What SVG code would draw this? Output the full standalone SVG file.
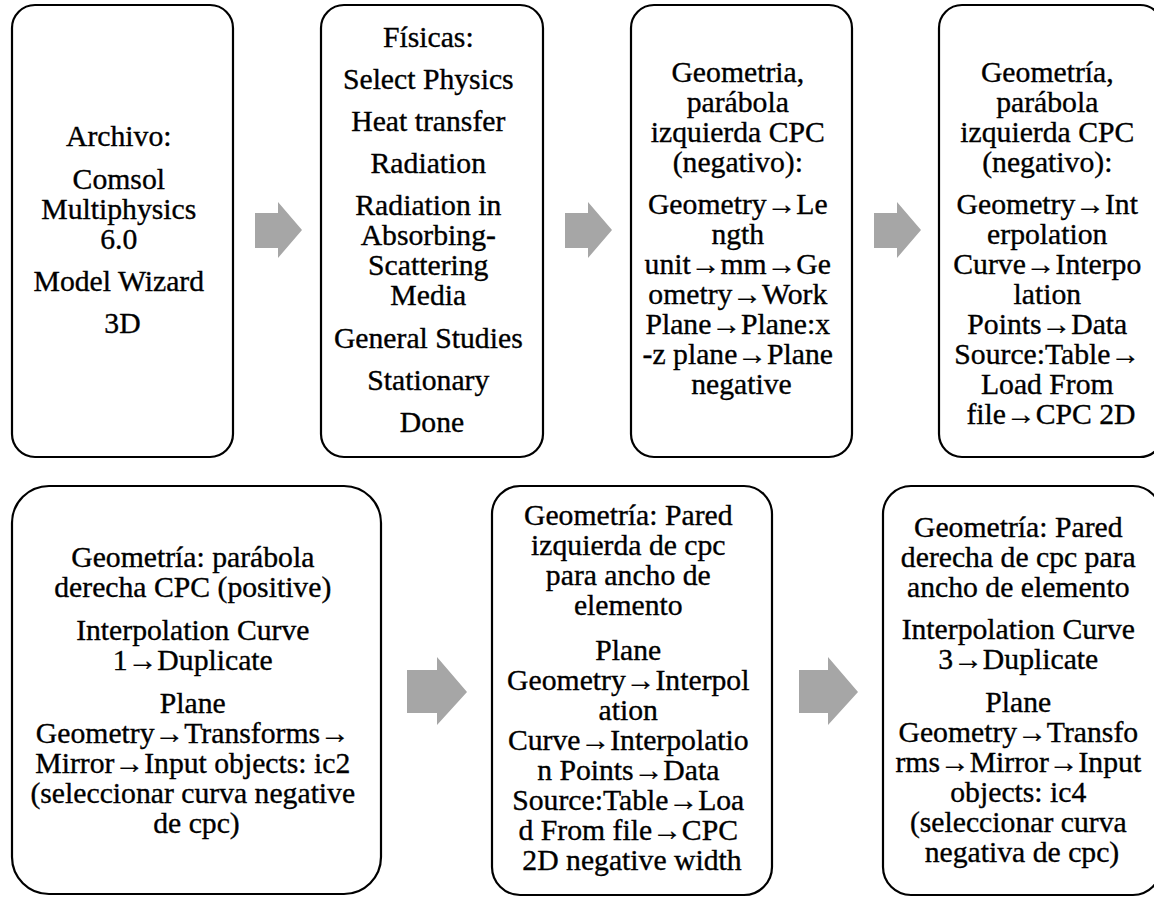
<svg xmlns="http://www.w3.org/2000/svg" width="1154" height="898" viewBox="0 0 1154 898">
  <defs>
    <style>
      .box { fill: #ffffff; stroke: #000000; stroke-width: 2.2; }
      .lbl { font-family: "Liberation Serif", "Times New Roman", serif; font-size: 29.7px; fill: #000000; stroke: #000000; stroke-width: 0.35; text-anchor: middle; }
      .arrow { fill: #a6a6a6; stroke: none; }
    </style>
  </defs>
  <rect width="1154" height="898" fill="#ffffff"/>

  <!-- block arrows between steps -->
  <g id="connectors">
    <polygon class="arrow" points="255,213 278,213 278,202 302,230 278,258 278,248 255,248"/>
    <polygon class="arrow" points="565,213 588,213 588,202 612,230 588,258 588,248 565,248"/>
    <polygon class="arrow" points="874,213 897,213 897,202 921,230 897,258 897,248 874,248"/>
    <polygon class="arrow" points="407,670 437,670 437,657 467,692 437,725 437,713 407,713"/>
    <polygon class="arrow" points="799,670 828,670 828,657 858,692 828,725 828,713 799,713"/>
  </g>

  <!-- row 1 -->
  <g id="step1">
    <rect class="box" x="12" y="5" width="221" height="452" rx="23" ry="23"/>
    <text class="lbl">
      <tspan x="122.5" y="146">Archivo:</tspan>
      <tspan x="122.5" y="189">Comsol</tspan>
      <tspan x="122.5" y="219">Multiphysics</tspan>
      <tspan x="122.5" y="249">6.0</tspan>
      <tspan x="122.5" y="291">Model Wizard</tspan>
      <tspan x="122.5" y="333">3D</tspan>
    </text>
  </g>

  <g id="step2">
    <rect class="box" x="321" y="5" width="222" height="452" rx="23" ry="23"/>
    <text class="lbl">
      <tspan x="432" y="47">Físicas:</tspan>
      <tspan x="432" y="89">Select Physics</tspan>
      <tspan x="432" y="131">Heat transfer</tspan>
      <tspan x="432" y="173">Radiation</tspan>
      <tspan x="432" y="215">Radiation in</tspan>
      <tspan x="432" y="245">Absorbing-</tspan>
      <tspan x="432" y="275">Scattering</tspan>
      <tspan x="432" y="305">Media</tspan>
      <tspan x="432" y="348">General Studies</tspan>
      <tspan x="432" y="390">Stationary</tspan>
      <tspan x="432" y="432">Done</tspan>
    </text>
  </g>

  <g id="step3">
    <rect class="box" x="631" y="5" width="221" height="452" rx="23" ry="23"/>
    <text class="lbl">
      <tspan x="741.5" y="82">Geometria,</tspan>
      <tspan x="741.5" y="112">parábola</tspan>
      <tspan x="741.5" y="142">izquierda CPC</tspan>
      <tspan x="741.5" y="172">(negativo):</tspan>
      <tspan x="741.5" y="214">Geometry→Le</tspan>
      <tspan x="741.5" y="244">ngth</tspan>
      <tspan x="741.5" y="274">unit→mm→Ge</tspan>
      <tspan x="741.5" y="304">ometry→Work</tspan>
      <tspan x="741.5" y="334">Plane→Plane:x</tspan>
      <tspan x="741.5" y="364">-z plane→Plane</tspan>
      <tspan x="741.5" y="394">negative</tspan>
    </text>
  </g>

  <g id="step4">
    <rect class="box" x="939" y="5" width="224" height="452" rx="23" ry="23"/>
    <text class="lbl">
      <tspan x="1051" y="82">Geometría,</tspan>
      <tspan x="1051" y="112">parábola</tspan>
      <tspan x="1051" y="142">izquierda CPC</tspan>
      <tspan x="1051" y="172">(negativo):</tspan>
      <tspan x="1051" y="214">Geometry→Int</tspan>
      <tspan x="1051" y="244">erpolation</tspan>
      <tspan x="1051" y="274">Curve→Interpo</tspan>
      <tspan x="1051" y="304">lation</tspan>
      <tspan x="1051" y="334">Points→Data</tspan>
      <tspan x="1051" y="364">Source:Table→</tspan>
      <tspan x="1051" y="394">Load From</tspan>
      <tspan x="1051" y="424">file→CPC 2D</tspan>
    </text>
  </g>

  <!-- row 2 -->
  <g id="step5">
    <rect class="box" x="12" y="486" width="369" height="408" rx="37" ry="37"/>
    <text class="lbl">
      <tspan x="196.5" y="567">Geometría: parábola</tspan>
      <tspan x="196.5" y="597">derecha CPC (positive)</tspan>
      <tspan x="196.5" y="640">Interpolation Curve</tspan>
      <tspan x="196.5" y="670">1→Duplicate</tspan>
      <tspan x="196.5" y="713">Plane</tspan>
      <tspan x="196.5" y="743">Geometry→Transforms→</tspan>
      <tspan x="196.5" y="773">Mirror→Input objects: ic2</tspan>
      <tspan x="196.5" y="803">(seleccionar curva negative</tspan>
      <tspan x="196.5" y="833">de cpc)</tspan>
    </text>
  </g>

  <g id="step6">
    <rect class="box" x="492" y="486" width="280" height="409" rx="28" ry="28"/>
    <text class="lbl">
      <tspan x="632" y="525">Geometría: Pared</tspan>
      <tspan x="632" y="555">izquierda de cpc</tspan>
      <tspan x="632" y="585">para ancho de</tspan>
      <tspan x="632" y="615">elemento</tspan>
      <tspan x="632" y="660">Plane</tspan>
      <tspan x="632" y="690">Geometry→Interpol</tspan>
      <tspan x="632" y="720">ation</tspan>
      <tspan x="632" y="750">Curve→Interpolatio</tspan>
      <tspan x="632" y="780">n Points→Data</tspan>
      <tspan x="632" y="810">Source:Table→Loa</tspan>
      <tspan x="632" y="840">d From file→CPC</tspan>
      <tspan x="632" y="870">2D negative width</tspan>
    </text>
  </g>

  <g id="step7">
    <rect class="box" x="883" y="486" width="278" height="409" rx="28" ry="28"/>
    <text class="lbl">
      <tspan x="1022" y="537">Geometría: Pared</tspan>
      <tspan x="1022" y="567">derecha de cpc para</tspan>
      <tspan x="1022" y="597">ancho de elemento</tspan>
      <tspan x="1022" y="639">Interpolation Curve</tspan>
      <tspan x="1022" y="669">3→Duplicate</tspan>
      <tspan x="1022" y="712">Plane</tspan>
      <tspan x="1022" y="742">Geometry→Transfo</tspan>
      <tspan x="1022" y="772">rms→Mirror→Input</tspan>
      <tspan x="1022" y="802">objects: ic4</tspan>
      <tspan x="1022" y="832">(seleccionar curva</tspan>
      <tspan x="1022" y="862">negativa de cpc)</tspan>
    </text>
  </g>
</svg>
